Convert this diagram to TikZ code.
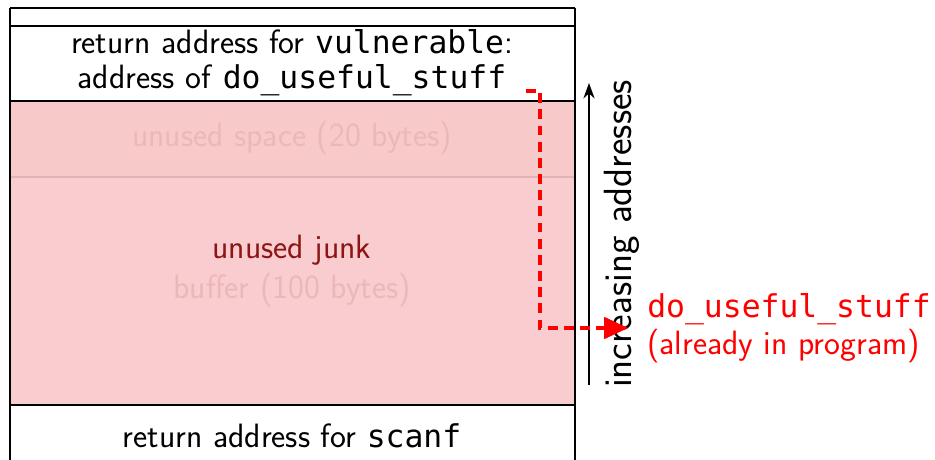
\documentclass[tikz,border=0pt]{standalone}
\usepackage{fontspec}
\setmonofont{DejaVu Sans Mono}[Scale=0.93]
\usetikzlibrary{arrows.meta}
\definecolor{pinkA}{RGB}{247,201,201}
\definecolor{pinkB}{RGB}{249,204,208}
\definecolor{fade}{RGB}{234,184,187}
\definecolor{junk}{RGB}{140,22,22}
\definecolor{sepline}{RGB}{228,178,180}
\tikzset{
  boxline/.style={line width=1.2pt, black},
  lbl/.style={font=\sffamily\fontsize{24}{25}\selectfont, align=center, inner sep=0pt},
  fadedlbl/.style={lbl, text=fade},
  redlink/.style={red, line width=2.6pt, dash pattern=on 7pt off 4.5pt},
}
\begin{document}
\begin{tikzpicture}[x=0.025cm,y=-0.025cm]
\useasboundingbox (0,0) rectangle (935,460);
% fills
\fill[pinkA] (10,101) rectangle (575,177);
\fill[pinkB] (10,177) rectangle (575,405);
\draw[sepline, line width=0.8pt] (10,177) -- (575,177);
% box lines
\draw[boxline] (10,8) -- (575,8);
\draw[boxline] (10,26) -- (575,26);
\draw[boxline] (10,101) -- (575,101);
\draw[boxline] (10,405) -- (575,405);
\draw[line width=2pt] (10,8) -- (10,462);
\draw[line width=2pt] (575,8) -- (575,462);
% texts
\node[lbl] (ret) at (292,63) {return address for \texttt{vulnerable}:\\address of \texttt{do\_useful\_stuff}};
\node[fadedlbl] (space) at (292,138) {unused space (20 bytes)};
\node[lbl, text=junk] (junk) at (292,250) {unused junk};
\node[fadedlbl] (buf) at (292,290) {buffer (100 bytes)};
\node[lbl] (scanf) at (292,436) {return address for \texttt{scanf}};
% increasing addresses
\coordinate (abot) at (589,385);
\coordinate (atop) at (589,83);
\draw[line width=0.9pt, -{Stealth[length=11pt,width=8pt]}] (abot) -- (atop);
\node[lbl, rotate=90, font=\sffamily\fontsize{28}{30}\selectfont] (inc) at (622,234) {increasing addresses};
% red label
\node[lbl, text=red, align=left, anchor=west, font=\sffamily\fontsize{24}{26}\selectfont] (target) at (647,328) {\texttt{do\_useful\_stuff}\\(already in program)};
% red link
\coordinate (src) at (526,91);
\coordinate (tip) at (628,328);
\draw[redlink, -{Triangle[length=17pt,width=16pt,line width=0pt]}] (src) -- (540,91) -- (540,328) -- (tip);
\end{tikzpicture}
\end{document}
